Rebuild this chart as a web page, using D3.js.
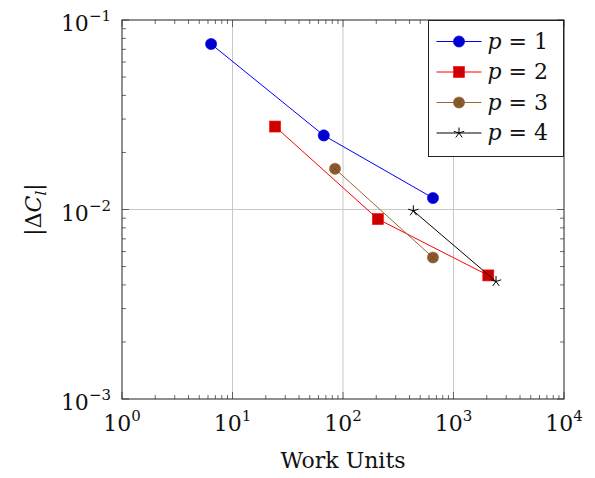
<!DOCTYPE html>
<html>
<head>
<meta charset="utf-8">
<script src="https://cdn.jsdelivr.net/npm/d3@7"></script>
<style>
  body { margin: 0; background: #fff; }
</style>
</head>
<body>
<svg id="chart" width="595" height="478" style="font-family: 'DejaVu Serif', 'Liberation Serif', serif;"></svg>
<script>
// data
const seriesNames = ["p = 1", "p = 2", "p = 3", "p = 4"];
const work1 = [6.4, 67, 652];
const dcl1 = [0.0747, 0.0246, 0.0115];
const work2 = [24.3, 207, 2065];
const dcl2 = [0.0274, 0.0089, 0.00449];
const work3 = [84.7, 652];
const dcl3 = [0.0164, 0.00558];
const work4 = [433, 2426];
const dcl4 = [0.00984, 0.00417];
const xTickExps = [0, 1, 2, 3, 4];
const yTickExps = [-3, -2, -1];

const series = [
  { name: seriesNames[0], xs: work1, ys: dcl1, color: "#0000ff", fill: "#0000cc", mark: "circle" },
  { name: seriesNames[1], xs: work2, ys: dcl2, color: "#ff0000", fill: "#cc0000", mark: "square" },
  { name: seriesNames[2], xs: work3, ys: dcl3, color: "#996633", fill: "#8a5a2e", mark: "otimes" },
  { name: seriesNames[3], xs: work4, ys: dcl4, color: "#000000", fill: "#000000", mark: "star" }
];

const margin = {top: 20, left: 122, right: 31, bottom: 79};
const width = 595 - margin.left - margin.right,
      height = 478 - margin.top - margin.bottom;

const svg = d3.select("#chart");
const g = svg.append("g").attr("transform", "translate(" + margin.left + "," + margin.top + ")");

const x = d3.scaleLog().domain([1, 1e4]).range([0, width]);
const y = d3.scaleLog().domain([1e-3, 1e-1]).range([height, 0]);

// minor tick values
const xMinor = [], yMinor = [];
for (let e = 0; e < 4; e++) for (let k = 2; k <= 9; k++) xMinor.push(k * Math.pow(10, e));
for (let e = -3; e < -1; e++) for (let k = 2; k <= 9; k++) yMinor.push(k * Math.pow(10, e));
const xMajor = xTickExps.map(e => Math.pow(10, e));
const yMajor = yTickExps.map(e => Math.pow(10, e));

// grid
g.selectAll(".xgrid").data(xMajor.slice(1, -1)).enter().append("line")
  .attr("x1", d => x(d)).attr("x2", d => x(d)).attr("y1", 0).attr("y2", height)
  .attr("stroke", "#c8c8c8").attr("stroke-width", 1);
g.selectAll(".ygrid").data(yMajor.slice(1, -1)).enter().append("line")
  .attr("y1", d => y(d)).attr("y2", d => y(d)).attr("x1", 0).attr("x2", width)
  .attr("stroke", "#c8c8c8").attr("stroke-width", 1);

// inner ticks on all four sides
function ticks(vals, len, horiz) {
  vals.forEach(v => {
    if (horiz) {
      g.append("line").attr("x1", x(v)).attr("x2", x(v)).attr("y1", height).attr("y2", height - len)
        .attr("stroke", "#444").attr("stroke-width", 0.8);
      g.append("line").attr("x1", x(v)).attr("x2", x(v)).attr("y1", 0).attr("y2", len)
        .attr("stroke", "#444").attr("stroke-width", 0.8);
    } else {
      g.append("line").attr("y1", y(v)).attr("y2", y(v)).attr("x1", 0).attr("x2", len)
        .attr("stroke", "#444").attr("stroke-width", 0.8);
      g.append("line").attr("y1", y(v)).attr("y2", y(v)).attr("x1", width).attr("x2", width - len)
        .attr("stroke", "#444").attr("stroke-width", 0.8);
    }
  });
}
ticks(xMinor, 4, true);
ticks(xMajor, 7, true);
ticks(yMinor, 4, false);
ticks(yMajor, 7, false);

// frame
g.append("rect").attr("width", width).attr("height", height)
  .attr("fill", "none").attr("stroke", "#222").attr("stroke-width", 1);

// tick labels
const xl = g.selectAll(".xl").data(xTickExps).enter().append("text")
  .attr("x", d => x(Math.pow(10, d))).attr("y", height + 32)
  .attr("text-anchor", "middle").attr("font-size", 22).attr("fill", "#111");
xl.append("tspan").text("10");
xl.append("tspan").attr("dy", -10).attr("font-size", 15).text(d => d);

const yl = g.selectAll(".yl").data(yTickExps).enter().append("text")
  .attr("x", -11).attr("y", d => y(Math.pow(10, d)) + 11)
  .attr("text-anchor", "end").attr("font-size", 22).attr("fill", "#111");
yl.append("tspan").text("10");
yl.append("tspan").attr("dy", -10).attr("font-size", 15).text(d => "\u2212" + (-d));

// axis titles
g.append("text").attr("x", width / 2).attr("y", height + 69)
  .attr("text-anchor", "middle").attr("font-size", 22).attr("fill", "#111").text("Work Units");

const yt = svg.append("text")
  .attr("transform", "translate(41," + (margin.top + height / 2) + ") rotate(-90)")
  .attr("text-anchor", "middle").attr("font-size", 22).attr("fill", "#111");
yt.append("tspan").text("|\u0394");
yt.append("tspan").attr("font-style", "italic").text("C");
yt.append("tspan").attr("dy", 5).attr("font-size", 15).attr("font-style", "italic").text("l");
yt.append("tspan").attr("dy", -5).text("|");

// marker drawing
function drawMark(sel, s, cx, cy) {
  if (s.mark === "circle") {
    sel.append("circle").attr("cx", cx).attr("cy", cy).attr("r", 5.6)
      .attr("fill", s.fill).attr("stroke", s.color).attr("stroke-width", 0.6);
  } else if (s.mark === "square") {
    sel.append("rect").attr("x", cx - 5.5).attr("y", cy - 5.5).attr("width", 11).attr("height", 11)
      .attr("fill", s.fill).attr("stroke", s.color).attr("stroke-width", 0.6);
  } else if (s.mark === "otimes") {
    sel.append("circle").attr("cx", cx).attr("cy", cy).attr("r", 5.6)
      .attr("fill", s.fill).attr("stroke", s.color).attr("stroke-width", 0.6);
    const r = 3.9;
    sel.append("path").attr("d", `M${cx - r},${cy - r}L${cx + r},${cy + r}M${cx - r},${cy + r}L${cx + r},${cy - r}`)
      .attr("stroke", "#6b4420").attr("stroke-width", 0.6);
  } else {
    const r = 5.5;
    let d = "";
    for (let i = 0; i < 5; i++) {
      const a = -Math.PI / 2 + i * 2 * Math.PI / 5;
      d += `M${cx},${cy}L${cx + r * Math.cos(a)},${cy + r * Math.sin(a)}`;
    }
    sel.append("path").attr("d", d).attr("stroke", "#000").attr("stroke-width", 1);
  }
}

const line = d3.line().x(d => x(d[0])).y(d => y(d[1]));

series.forEach(s => {
  const pts = s.xs.map((v, i) => [v, s.ys[i]]);
  g.append("path").datum(pts).attr("d", line)
    .attr("fill", "none").attr("stroke", s.color).attr("stroke-width", 1);
  pts.forEach(p => drawMark(g, s, x(p[0]), y(p[1])));
});

// legend
const lg = svg.append("g").attr("transform", "translate(428.5,20.5)");
lg.append("rect").attr("width", 135).attr("height", 136)
  .attr("fill", "#fff").attr("stroke", "#222").attr("stroke-width", 1);
series.forEach((s, i) => {
  const cy = 21 + i * 30.5;
  lg.append("line").attr("x1", 8).attr("x2", 53).attr("y1", cy).attr("y2", cy)
    .attr("stroke", s.color).attr("stroke-width", 1);
  drawMark(lg, s, 30.5, cy);
  const t = lg.append("text").attr("x", 59).attr("y", cy + 7)
    .attr("font-size", 22).attr("fill", "#111");
  const parts = s.name.split(" = ");
  t.append("tspan").attr("font-style", "italic").text(parts[0]);
  t.append("tspan").text(" = " + parts[1]);
});
</script>
</body>
</html>
